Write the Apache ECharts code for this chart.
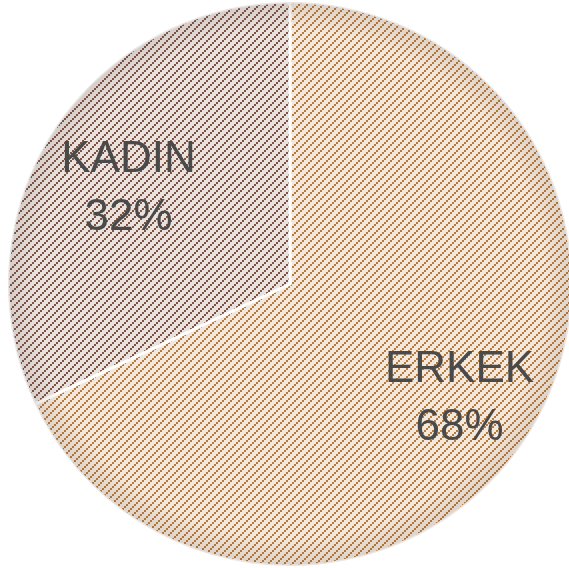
<!DOCTYPE html>
<html>
<head>
<meta charset="utf-8">
<script src="https://cdn.jsdelivr.net/npm/echarts@6/dist/echarts.min.js"></script>
<style>
    html, body { margin: 0; padding: 0; background: #fff; }
    #pieChart { width: 569px; height: 568px; }
</style>
</head>
<body>
<div id="pieChart"></div>
<script>
// 数据
var categories = ['ERKEK', 'KADIN'];
var values = [68, 32];

// 斜线填充
function stripes(bg, fg) {
    var c = document.createElement('canvas');
    c.width = 8;
    c.height = 8;
    var ctx = c.getContext('2d');
    ctx.fillStyle = bg;
    ctx.fillRect(0, 0, 8, 8);
    ctx.fillStyle = fg;
    for (var bx = 0; bx < 4; bx++) {
        for (var by = 0; by < 4; by++) {
            if ((bx + by) % 4 == 3) {
                ctx.fillRect(bx * 2, by * 2, 2, 2);
            }
        }
    }
    return c;
}
var fills = [
    { image: stripes('#f4e8dc', '#b77a3d'), repeat: 'repeat' },
    { image: stripes('#ebe2de', '#7c5446'), repeat: 'repeat' }
];

var pieData = categories.map(function (name, i) {
    return { name: name, value: values[i], itemStyle: { color: fills[i] } };
});
var shadeData = categories.map(function (name, i) {
    return { name: name, value: values[i] };
});

var pieChart = echarts.init(document.getElementById('pieChart'));
var pieOption = {
    animation: false,
    series: [{
        type: 'pie',
        center: [290, 284],
        radius: [0, 282],
        startAngle: 90,
        clockwise: true,
        silent: true,
        label: { show: false },
        labelLine: { show: false },
        itemStyle: { borderColor: '#fff', borderWidth: 3 },
        data: pieData
    }, {
        // 边缘阴影 + 标签
        type: 'pie',
        center: [290, 284],
        radius: [104, 282],
        startAngle: 90,
        clockwise: true,
        silent: true,
        itemStyle: {
            borderWidth: 0,
            color: {
                type: 'radial', x: 290, y: 284, r: 282, global: true,
                colorStops: [
                    { offset: 0, color: 'rgba(90,70,60,0)' },
                    { offset: 0.9, color: 'rgba(90,70,60,0)' },
                    { offset: 1, color: 'rgba(90,70,60,0.14)' }
                ]
            }
        },
        label: {
            show: true,
            position: 'inside',
            formatter: '{b}\n{d}%',
            color: '#4a4a4a',
            fontFamily: 'Liberation Sans',
            fontWeight: 'normal',
            fontSize: 44,
            lineHeight: 58,
            offset: [4, 10]
        },
        labelLine: { show: false },
        data: shadeData
    }]
};
pieChart.setOption(pieOption);
</script>
</body>
</html>
